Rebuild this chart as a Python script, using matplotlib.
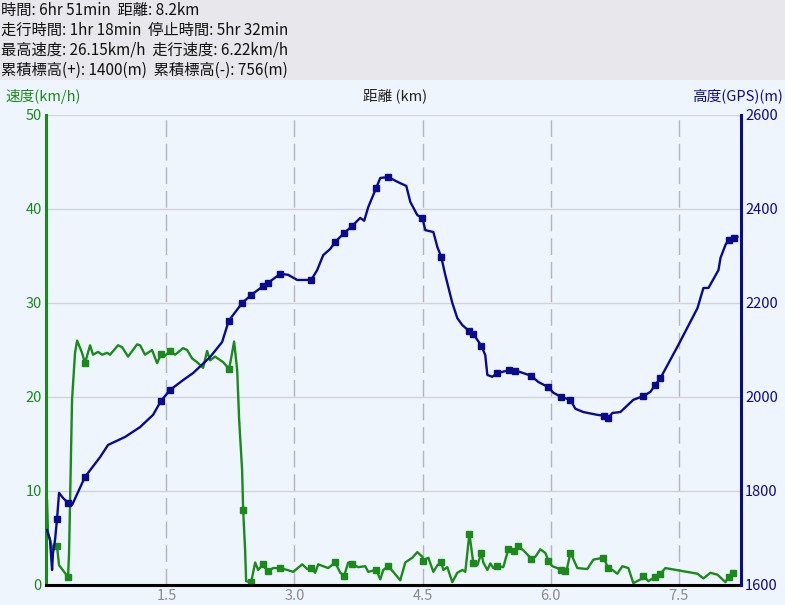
import matplotlib
matplotlib.use("Agg")
import matplotlib.pyplot as plt
from matplotlib.patches import Rectangle

plt.rcParams["font.family"] = ["Noto Sans CJK JP", "DejaVu Sans"]

# ヘッダー
header_lines = ["時間: 6hr 51min  距離: 8.2km",
                "走行時間: 1hr 18min  停止時間: 5hr 32min",
                "最高速度: 26.15km/h  走行速度: 6.22km/h",
                "累積標高(+): 1400(m)  累積標高(-): 756(m)"]

# 高度 (km, m, marker)
alt_km = [0.102, 0.137, 0.161, 0.172, 0.196, 0.219, 0.243, 0.290, 0.348, 0.395,
          0.547, 0.723, 0.817, 1.016, 1.192, 1.344, 1.438, 1.543, 1.696, 1.813,
          2.012, 2.153, 2.230, 2.387, 2.493, 2.633, 2.692, 2.833, 2.926, 3.032,
          3.196, 3.266, 3.337, 3.419, 3.477, 3.583, 3.677, 3.770, 3.817, 3.864,
          3.958, 4.005, 4.098, 4.204, 4.310, 4.357, 4.439, 4.498, 4.533, 4.627,
          4.674, 4.719, 4.766, 4.849, 4.907, 4.966, 5.048, 5.095, 5.189, 5.235,
          5.259, 5.317, 5.376, 5.517, 5.587, 5.645, 5.774, 5.856, 5.973, 6.032,
          6.126, 6.231, 6.290, 6.383, 6.548, 6.630, 6.676, 6.723, 6.817, 6.969,
          7.086, 7.169, 7.227, 7.286, 7.497, 7.720, 7.790, 7.849, 7.966, 7.990,
          8.049, 8.084, 8.143, 8.188]
alt_m = [1717, 1696, 1632, 1668, 1696, 1740, 1796, 1785, 1775, 1770,
         1830, 1872, 1898, 1915, 1936, 1962, 1992, 2015, 2036, 2051,
         2085, 2117, 2162, 2200, 2217, 2236, 2243, 2262, 2260, 2249,
         2249, 2270, 2302, 2315, 2330, 2349, 2364, 2381, 2375, 2404,
         2445, 2466, 2468, 2458, 2449, 2415, 2387, 2381, 2355, 2351,
         2319, 2298, 2260, 2200, 2168, 2153, 2140, 2134, 2109, 2089,
         2047, 2043, 2051, 2057, 2055, 2053, 2045, 2032, 2021, 2009,
         2000, 1994, 1975, 1968, 1962, 1960, 1955, 1966, 1968, 1994,
         2002, 2011, 2026, 2040, 2111, 2189, 2232, 2232, 2270, 2296,
         2324, 2334, 2338, 2341]
alt_mark = [0, 0, 0, 0, 0, 1, 0, 0, 1, 0,
            1, 0, 0, 0, 0, 0, 1, 1, 0, 0,
            0, 0, 1, 1, 1, 1, 1, 1, 0, 0,
            1, 0, 0, 0, 1, 1, 1, 0, 0, 0,
            1, 0, 1, 0, 0, 0, 0, 1, 0, 0,
            0, 1, 0, 0, 0, 0, 1, 1, 1, 0,
            0, 0, 1, 1, 1, 0, 1, 0, 1, 0,
            1, 1, 0, 0, 0, 1, 1, 0, 0, 0,
            1, 0, 1, 1, 0, 0, 0, 0, 0, 0,
            0, 1, 1, 0]

# 速度 (km, km/h, marker)
spd_km = [0.102, 0.114, 0.172, 0.219, 0.243, 0.348, 0.360, 0.395, 0.430, 0.454,
          0.512, 0.547, 0.606, 0.641, 0.700, 0.747, 0.805, 0.840, 0.934, 0.981,
          1.051, 1.157, 1.192, 1.250, 1.332, 1.391, 1.438, 1.485, 1.543, 1.602,
          1.696, 1.743, 1.801, 1.860, 1.930, 1.977, 2.012, 2.071, 2.165, 2.235,
          2.270, 2.293, 2.329, 2.352, 2.387, 2.399, 2.422, 2.434, 2.493, 2.540,
          2.575, 2.633, 2.657, 2.692, 2.751, 2.833, 2.915, 2.985, 3.091, 3.149,
          3.196, 3.243, 3.278, 3.395, 3.477, 3.536, 3.583, 3.630, 3.677, 3.747,
          3.829, 3.864, 3.958, 4.005, 4.040, 4.098, 4.157, 4.239, 4.298, 4.380,
          4.439, 4.498, 4.509, 4.568, 4.627, 4.674, 4.719, 4.743, 4.790, 4.849,
          4.907, 4.966, 5.001, 5.048, 5.059, 5.095, 5.142, 5.189, 5.212, 5.259,
          5.294, 5.329, 5.376, 5.446, 5.505, 5.575, 5.622, 5.680, 5.774, 5.821,
          5.880, 5.939, 5.973, 6.020, 6.079, 6.126, 6.173, 6.196, 6.231, 6.255,
          6.313, 6.430, 6.501, 6.618, 6.676, 6.723, 6.782, 6.840, 6.911, 6.969,
          7.075, 7.086, 7.145, 7.227, 7.286, 7.344, 7.720, 7.790, 7.872, 7.954,
          8.048, 8.084, 8.131]
spd_kmh = [9.0, 5.5, 3.7, 4.1, 2.1, 0.85, 3.4, 19.7, 24.7, 26.0,
           24.7, 23.6, 25.5, 24.5, 24.8, 24.5, 24.7, 24.5, 25.5, 25.3,
           24.3, 25.6, 25.5, 24.5, 25.0, 23.6, 24.6, 24.4, 24.9, 24.5,
           25.2, 25.0, 24.1, 23.7, 23.1, 24.9, 23.9, 24.3, 23.7, 23.0,
           24.7, 25.9, 22.9, 17.6, 12.2, 8.0, 3.7, 0.4, 0.3, 2.4,
           1.6, 2.2, 1.8, 1.5, 1.8, 1.8, 1.6, 1.4, 2.2, 1.7,
           1.8, 1.3, 2.2, 1.8, 2.4, 1.3, 1.0, 2.4, 2.2, 1.9,
           2.0, 1.4, 1.6, 0.6, 1.6, 2.0, 1.4, 0.5, 2.4, 2.9,
           3.5, 3.0, 2.6, 2.9, 1.4, 2.1, 2.4, 1.6, 1.9, 0.3,
           1.3, 1.6, 1.4, 5.4, 4.8, 2.3, 2.1, 3.4, 2.4, 1.6,
           2.3, 1.8, 2.0, 1.9, 3.8, 3.6, 4.1, 3.7, 2.8, 3.0,
           3.8, 3.4, 2.6, 2.0, 1.8, 1.6, 1.5, 1.9, 3.4, 3.0,
           1.8, 1.7, 2.7, 2.9, 1.8, 1.6, 1.2, 2.0, 1.8, 0.2,
           0.7, 1.0, 0.4, 0.9, 1.2, 1.8, 1.2, 0.7, 1.3, 1.1,
           0.3, 0.9, 1.3]
spd_mark = [0, 0, 0, 1, 0, 1, 0, 0, 0, 0,
            0, 1, 0, 0, 0, 0, 0, 0, 0, 0,
            0, 0, 0, 0, 0, 0, 1, 0, 1, 0,
            0, 0, 0, 0, 0, 0, 0, 0, 0, 1,
            0, 0, 0, 0, 0, 1, 0, 0, 1, 0,
            0, 1, 0, 1, 0, 1, 0, 0, 0, 0,
            1, 0, 0, 0, 1, 0, 1, 0, 1, 0,
            0, 0, 1, 0, 0, 1, 0, 0, 0, 0,
            0, 0, 1, 0, 0, 0, 1, 0, 0, 0,
            0, 0, 0, 1, 0, 1, 0, 1, 0, 0,
            0, 0, 1, 0, 1, 1, 1, 0, 1, 0,
            0, 0, 1, 0, 0, 1, 1, 0, 1, 0,
            0, 0, 0, 1, 1, 0, 0, 0, 0, 0,
            0, 1, 0, 1, 1, 0, 0, 0, 0, 0,
            0, 1, 1]

x_ticks = [1.5, 3.0, 4.5, 6.0, 7.5]
x_tick_labels = ["1.5", "3.0", "4.5", "6.0", "7.5"]
spd_ticks = [0, 10, 20, 30, 40, 50]
alt_ticks = [1600, 1800, 2000, 2200, 2400, 2600]

GREEN = "#1a8a1a"
NAVY = "#0a0a8c"
W, H = 785, 605

fig = plt.figure(figsize=(W / 100, H / 100), dpi=100)
fig.patch.set_facecolor("#eff5fd")
fig.patches.append(Rectangle((0, 1 - 80 / H), 1, 80 / H, transform=fig.transFigure,
                             facecolor="#e8e8ec", edgecolor="none", zorder=0))
for i, line in enumerate(header_lines):
    fig.text(1 / W, 1 - (10 + 20 * i) / H, line, fontsize=11, va="center", ha="left", color="#111111")

fig.text(5 / W, 1 - 96 / H, "速度(km/h)", fontsize=10.5, color=GREEN, va="center", ha="left")
fig.text(395 / W, 1 - 96 / H, "距離 (km)", fontsize=10.5, color="#222222", va="center", ha="center")
fig.text(783 / W, 1 - 96 / H, "高度(GPS)(m)", fontsize=10.5, color=NAVY, va="center", ha="right")

ax = fig.add_axes([46 / W, 20 / H, 695 / W, 470 / H])
ax.set_facecolor("#eff5fd")
ax.set_xlim(0.09, 8.23)
ax.set_ylim(0, 50)
ax.set_yticks(spd_ticks)
ax.set_xticks(x_ticks)
ax.set_xticklabels(x_tick_labels)
for y in spd_ticks[1:]:
    ax.axhline(y, color="#d2d2da", lw=1, zorder=1)
for x in x_ticks:
    ax.axvline(x, color="#b4b4bc", lw=1, linestyle=(0, (12, 5)), zorder=1)
ax.tick_params(axis="y", length=0, pad=3, labelsize=10.5, labelcolor=GREEN)
ax.tick_params(axis="x", length=0, pad=3, labelsize=10.5, labelcolor="#8a8a8a")
ax.spines["top"].set_visible(False)
ax.spines["right"].set_visible(False)
ax.spines["left"].set_color(GREEN)
ax.spines["left"].set_linewidth(2.2)
ax.spines["bottom"].set_color("black")
ax.spines["bottom"].set_linewidth(2.2)
ax.spines["bottom"].set_zorder(5)

ax.plot(spd_km, spd_kmh, color=GREEN, lw=1.7, zorder=3, clip_on=False)
mx = [k for k, m in zip(spd_km, spd_mark) if m]
my = [v for v, m in zip(spd_kmh, spd_mark) if m]
ax.plot(mx, my, "s", color=GREEN, ms=5, zorder=4, clip_on=False)

ax2 = ax.twinx()
ax2.set_ylim(1600, 2600)
ax2.set_yticks(alt_ticks)
ax2.tick_params(axis="y", length=0, pad=3, labelsize=10.5, labelcolor=NAVY)
for s in ["top", "left", "bottom"]:
    ax2.spines[s].set_visible(False)
ax2.spines["right"].set_color(NAVY)
ax2.spines["right"].set_linewidth(2.2)

ax2.plot(alt_km, alt_m, color=NAVY, lw=1.7, zorder=3)
mx = [k for k, m in zip(alt_km, alt_mark) if m]
my = [v for v, m in zip(alt_m, alt_mark) if m]
ax2.plot(mx, my, "s", color=NAVY, ms=5, zorder=4)

fig.savefig("out.png", dpi=100, facecolor=fig.get_facecolor())
